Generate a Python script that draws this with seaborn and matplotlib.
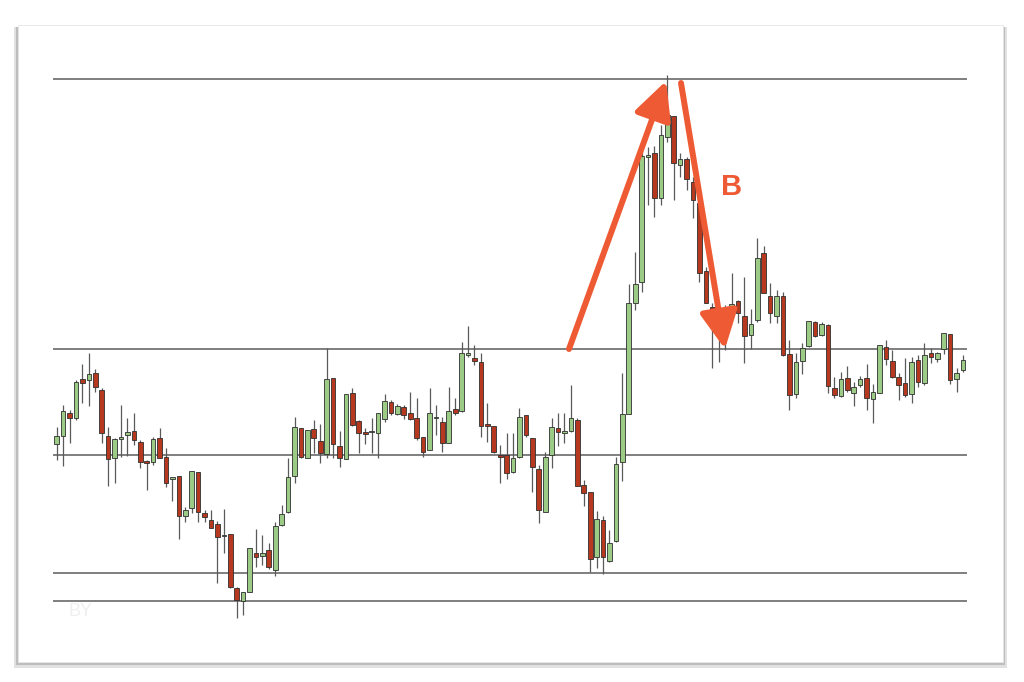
import numpy as np
import pandas as pd
import matplotlib
matplotlib.use("Agg")
import matplotlib.pyplot as plt
from matplotlib.patches import Rectangle
import seaborn as sns

# ---- data (price points) ----
opens = [256, 264, 287, 282, 321, 320, 327, 310, 264, 242, 261, 265, 269, 258, 239, 238, 262, 243, 221, 224,
         184, 192, 228, 187, 180, 176, 164, 166, 112, 99, 108, 147, 144, 150, 130, 175, 188, 224, 272, 242,
         271, 259, 246, 322, 254, 241, 307, 279, 268, 268, 267, 281, 298, 286, 293, 287, 282, 263, 250, 282,
         278, 257, 291, 289, 345, 342, 338, 276, 274, 245, 245, 228, 243, 285, 262, 231, 188, 245, 272, 267,
         269, 280, 215, 208, 143, 180, 139, 159, 238, 286, 397, 418, 543, 547, 502, 563, 584, 535, 541, 518,
         497, 429, 393, 385, 391, 387, 399, 384, 365, 380, 447, 404, 384, 404, 346, 306, 339, 354, 378, 365,
         375, 312, 304, 322, 307, 315, 322, 301, 307, 353, 339, 323, 317, 306, 340, 317, 347, 341, 351, 366,
         321, 330]
highs = [273, 295, 290, 320, 336, 347, 331, 312, 273, 262, 295, 282, 287, 260, 240, 263, 272, 252, 223, 224,
         193, 229, 228, 190, 190, 179, 191, 166, 113, 108, 152, 171, 165, 157, 178, 195, 242, 283, 272, 270,
         280, 276, 352, 322, 269, 306, 312, 280, 272, 282, 287, 306, 300, 296, 295, 308, 302, 263, 312, 295,
         283, 313, 302, 358, 374, 355, 347, 297, 274, 255, 267, 267, 292, 285, 262, 235, 248, 282, 287, 287,
         315, 282, 220, 208, 189, 184, 170, 243, 327, 416, 448, 553, 553, 554, 575, 625, 584, 547, 543, 523,
         497, 433, 397, 390, 395, 427, 400, 423, 391, 462, 454, 417, 410, 408, 360, 347, 357, 379, 379, 378,
         376, 323, 328, 334, 318, 324, 336, 316, 355, 360, 350, 327, 342, 343, 345, 357, 352, 348, 367, 366,
         332, 345]
lows = [240, 234, 257, 280, 297, 294, 308, 257, 214, 217, 243, 244, 255, 232, 210, 235, 242, 213, 199, 161,
        178, 187, 178, 178, 172, 117, 147, 112, 82, 85, 108, 133, 135, 131, 124, 174, 187, 217, 242, 242,
        247, 237, 242, 242, 233, 241, 274, 247, 256, 247, 242, 278, 285, 285, 281, 280, 260, 243, 250, 265,
        248, 257, 285, 288, 343, 335, 263, 258, 247, 217, 221, 227, 242, 263, 208, 177, 188, 232, 254, 257,
        268, 214, 194, 128, 132, 126, 138, 158, 219, 286, 390, 408, 495, 483, 495, 558, 500, 523, 510, 482,
        418, 397, 332, 338, 350, 383, 377, 337, 351, 378, 407, 377, 377, 344, 290, 302, 326, 353, 363, 364,
        307, 302, 303, 308, 294, 313, 290, 277, 307, 335, 322, 300, 303, 297, 313, 315, 337, 338, 346, 316,
        308, 328]
closes = [264, 289, 282, 318, 317, 326, 313, 267, 241, 261, 263, 268, 260, 238, 237, 261, 242, 217, 223, 184,
          190, 229, 188, 183, 172, 163, 165, 113, 100, 108, 152, 143, 147, 133, 174, 186, 223, 273, 243, 270,
          262, 247, 321, 256, 242, 306, 275, 267, 266, 269, 287, 299, 287, 294, 285, 281, 262, 248, 287, 283,
          257, 289, 287, 347, 347, 339, 274, 274, 248, 243, 227, 242, 283, 265, 233, 190, 243, 273, 268, 269,
          282, 214, 207, 141, 181, 143, 157, 236, 286, 397, 416, 544, 545, 502, 565, 585, 537, 541, 521, 500,
          427, 397, 373, 373, 384, 396, 387, 364, 376, 442, 407, 387, 404, 345, 305, 338, 352, 379, 364, 376,
          314, 305, 321, 310, 313, 321, 302, 308, 355, 341, 323, 315, 305, 338, 318, 345, 343, 347, 367, 320,
          327, 340]
levels = [621, 351, 245, 127, 99]
label_text = "B"
watermark = "BY"

df = pd.DataFrame({"open": opens, "high": highs, "low": lows, "close": closes})
df["idx"] = np.arange(len(df))
df["up"] = df["close"] >= df["open"]

sns.set_theme(style="white")
plt.rcParams["font.family"] = ["Liberation Sans", "DejaVu Sans"]

W, H = 1024, 682
fig = plt.figure(figsize=(W / 100, H / 100), dpi=100)
fig.patch.set_facecolor("white")

# card with shadow (behind the axes)
shadow = Rectangle((14 / W, (H - 668) / H), 993 / W, 641 / H, transform=fig.transFigure,
                   facecolor="#c4c4c4", edgecolor="none", alpha=0.5, zorder=-3)
shadow2 = Rectangle((16 / W, (H - 665) / H), 989 / W, 638 / H, transform=fig.transFigure,
                    facecolor="#a0a0a0", edgecolor="none", alpha=0.55, zorder=-2)
card = Rectangle((18 / W, (H - 662) / H), 985 / W, 637 / H, transform=fig.transFigure,
                 facecolor="white", edgecolor="#e6e6e6", linewidth=0.6, zorder=-1)
fig.patches.extend([shadow, shadow2, card])

# axes: x from 53 px to 967 px ; y from 60 px to 640 px
ax = fig.add_axes([53 / W, (H - 640) / H, (967 - 53) / W, 580 / H])
ax.set_zorder(1)
ax.set_facecolor("none")
n = len(df)
step = (963 - 56.7) / (n - 1)
ax.set_xlim(-(56.7 - 53) / step, (n - 1) + (967 - 963) / step)
ax.set_ylim(60, 640)
ax.axis("off")

for lv in levels:
    ax.axhline(lv, color="#6a6a6a", lw=1.2, zorder=1)

green = "#9ccb86"
red = "#b5381f"
ax.vlines(df["idx"], df["low"], df["high"], color="#5a5a5a", lw=0.9, zorder=2)
bottoms = np.minimum(df["open"], df["close"])
heights = np.maximum(np.abs(df["close"] - df["open"]), 1.5)
colors = [green if u else red for u in df["up"]]
ax.bar(df["idx"], heights, bottom=bottoms, width=0.72, color=colors,
       edgecolor="#2f2f2f", linewidth=0.6, zorder=3)

# arrows
def px_to_data(x, y):
    return (x - 56.7) / step, 700 - y

arrow_color = "#ee5a33"
ap = dict(arrowstyle="-|>,head_length=2.3,head_width=1.15", color=arrow_color, lw=4.3,
          shrinkA=0, shrinkB=0, mutation_scale=10)
ax.annotate("", xy=px_to_data(666, 81), xytext=px_to_data(569, 349), arrowprops=ap, zorder=5)
ax.annotate("", xy=px_to_data(725, 349), xytext=px_to_data(681, 83), arrowprops=ap, zorder=5)

bx, by = px_to_data(732, 187)
ax.text(bx, by, label_text, color=arrow_color, fontsize=21, fontweight="bold",
        ha="center", va="center", zorder=6)

wx, wy = px_to_data(81, 611)
ax.text(wx, wy, watermark, color="#efefef", fontsize=13, ha="center", va="center", zorder=0.8)

fig.savefig("out.png", dpi=100, facecolor="white")
